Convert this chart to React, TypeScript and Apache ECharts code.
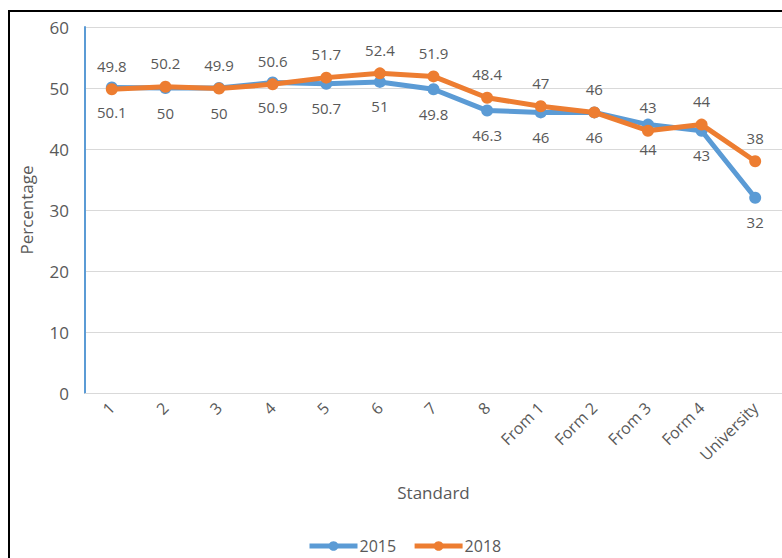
import React, { useEffect, useRef } from "react";
import * as echarts from "echarts";

const categories = ["1", "2", "3", "4", "5", "6", "7", "8", "From 1", "Form 2", "From 3", "Form 4", "University"];
const values2015 = [50.1, 50, 50, 50.9, 50.7, 51, 49.8, 46.3, 46, 46, 44, 43, 32];
const values2018 = [49.8, 50.2, 49.9, 50.6, 51.7, 52.4, 51.9, 48.4, 47, 46, 43, 44, 38];
const yTicks = { min: 0, max: 60, interval: 10 };

const FONT = "'Open Sans', 'Noto Sans', sans-serif";
const GRAY = "#595959";

export default function App() {
  const ref = useRef<HTMLDivElement>(null);

  useEffect(() => {
    if (!ref.current) return;
    const chart = echarts.init(ref.current, undefined, { renderer: "svg" });
    const labelStyle = { color: GRAY, fontSize: 15, fontFamily: FONT };
    chart.setOption({
      animation: false,
      backgroundColor: "#ffffff",
      textStyle: { fontFamily: FONT },
      grid: { left: 85, top: 27, width: 702, height: 366 },
      legend: {
        left: 302,
        top: 533,
        itemWidth: 48,
        itemHeight: 12,
        itemGap: 16,
        lineStyle: { width: 5 },
        textStyle: { color: GRAY, fontSize: 16, fontFamily: FONT, padding: [0, 0, 0, -3] },
        data: ["2015", "2018"],
      },
      xAxis: {
        type: "category",
        data: categories,
        boundaryGap: true,
        name: "Standard",
        nameLocation: "middle",
        nameGap: 91,
        nameTextStyle: { color: GRAY, fontSize: 17, fontFamily: FONT },
        axisLine: { lineStyle: { color: "#d9d9d9", width: 1 } },
        axisTick: { show: false },
        axisLabel: { rotate: 45, color: GRAY, fontSize: 16, fontFamily: FONT, margin: 12, interval: 0 },
      },
      yAxis: {
        type: "value",
        min: yTicks.min,
        max: yTicks.max,
        interval: yTicks.interval,
        name: "Percentage",
        nameLocation: "middle",
        nameGap: 50,
        nameTextStyle: { color: GRAY, fontSize: 17, fontFamily: FONT },
        axisLine: { show: true, lineStyle: { color: "#5B9BD5", width: 2 } },
        axisTick: { show: false },
        axisLabel: { color: GRAY, fontSize: 17, fontFamily: FONT, margin: 16 },
        splitLine: { lineStyle: { color: "#d9d9d9", width: 1 } },
      },
      graphic: [
        {
          type: "rect",
          shape: { x: 9, y: 11, width: 800, height: 600 },
          style: { fill: "none", stroke: "#000000", lineWidth: 2 },
          silent: true,
          z: 100,
        },
      ],
      series: [
        {
          name: "2015",
          type: "line",
          data: values2015,
          symbol: "circle",
          symbolSize: 12,
          itemStyle: { color: "#5B9BD5" },
          lineStyle: { color: "#5B9BD5", width: 5 },
          label: { show: true, position: "bottom", distance: 11, ...labelStyle },
          z: 2,
        },
        {
          name: "2018",
          type: "line",
          data: values2018,
          symbol: "circle",
          symbolSize: 12,
          itemStyle: { color: "#ED7D31" },
          lineStyle: { color: "#ED7D31", width: 5 },
          label: { show: true, position: "top", distance: 10, ...labelStyle },
          z: 3,
        },
      ],
    });
    return () => chart.dispose();
  }, []);

  return (
    <div
      ref={ref}
      style={{ position: "absolute", left: 0, top: 0, width: 782, height: 558 }}
    />
  );
}
